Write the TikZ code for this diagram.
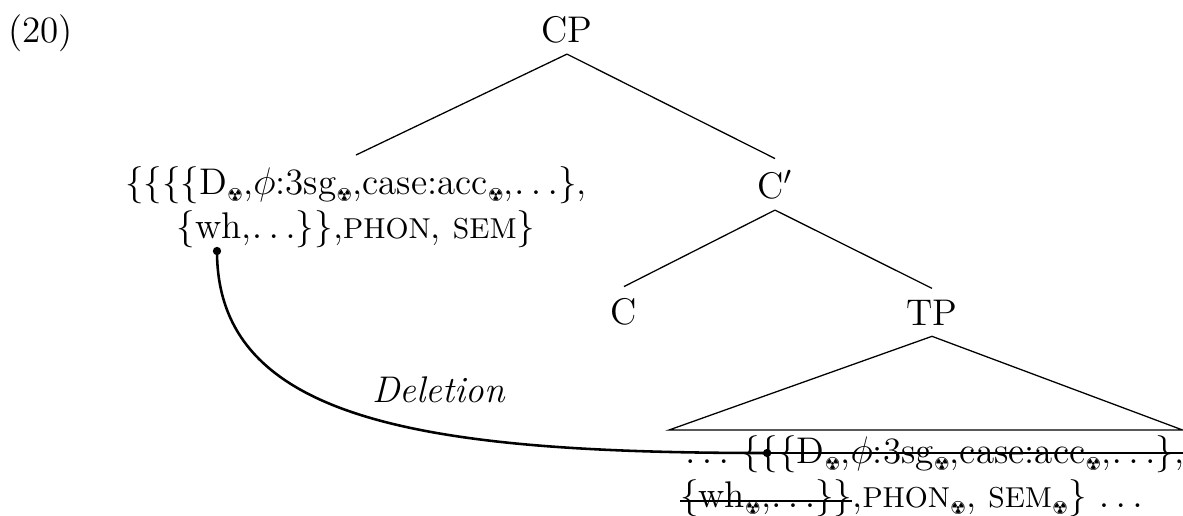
\documentclass[tikz,border=0pt]{standalone}
\usepackage{fontspec}
\newfontfamily\symfont{DejaVu Sans}
\usetikzlibrary{calc}
% small radioactive mark used as a feature diacritic
\newcommand\rad{\raisebox{-2.2pt}{\fontsize{5.6}{6}\selectfont\symfont ☢}}
\newcommand\smc[1]{{\fontsize{9}{10}\selectfont #1}}
\newcommand\dts{$\ldots$}
\begin{document}
\begin{tikzpicture}[x=0.3125pt, y=-0.3125pt,
  txt/.style={font=\fontsize{11.6}{14}\selectfont},
  piece/.style={txt, inner sep=0pt, outer sep=0pt},
  branch/.style={line width=0.4pt},
  move/.style={line width=0.8pt},
  blob/.style={fill=black, circle, inner sep=0pt, minimum size=2.6pt}]
\useasboundingbox (0,0) rectangle (1183,515);

% example number and tree labels
\node[piece, anchor=base west] (num) at (8,42) {(20)};
\node[txt, anchor=base] (cp) at (567,42) {CP};
\node[txt, anchor=north, align=center] (spec) at (356,155)
  {\{\{\{\{D\rad,$\phi$:3sg\rad,case:acc\rad,\dts\},\\
   \{wh,\dts\}\},\smc{PHON}, \smc{SEM}\}};
\node[txt, anchor=base] (cbar) at (775,198) {C$'$};
\node[txt, anchor=base] (c) at (624,324) {C};
\node[txt, anchor=base] (tp) at (932,325) {TP};

% tree branches
\draw[branch] (cp.south) -- (spec.north);
\draw[branch] (cp.south) -- (cbar.north);
\draw[branch] (cbar.south) -- (c.north);
\draw[branch] (cbar.south) -- (tp.north);
\coordinate (tl) at (669,430);
\coordinate (tr) at (1182.6,430);
\draw[branch] (tp.south) -- (tl) -- (tr) -- cycle;

% material under the triangle
\node[piece, anchor=base west] (b1a) at (685,463) {\dts};
\node[piece, anchor=base west] (b1b) at ($(b1a.base east)+(12,0)$)
  {\{\{\{D\rad,$\phi$:3sg\rad,case:acc\rad,\dts\},};
\node[piece, anchor=base west] (b2a) at (680,507) {\{wh\rad,\dts\}\}};
\node[piece, anchor=base west] (b2b) at (b2a.base east)
  {,\smc{PHON}\rad, \smc{SEM}\rad\} \dts};

% strike-outs of the deleted copy
\draw[move] ($(b1b.base west)+(0,-10)$) -- ($(b1b.base east)+(0,-10)$);
\draw[move] ($(b2a.base west)+(0,-6)$) -- ($(b2a.base east)+(0,-6)$);

% deletion link
\coordinate (src) at (217,251);
\coordinate (dst) at ($(b1b.base west)+(26,-10)$);
\draw[move] (src) .. controls (217,420) and (420,453) .. (dst);
\node[blob] (srcdot) at (src) {};
\node[blob] (dstdot) at (dst) {};
\node[txt, anchor=base] (lab) at (439,402) {\textit{Deletion}};
\end{tikzpicture}
\end{document}
